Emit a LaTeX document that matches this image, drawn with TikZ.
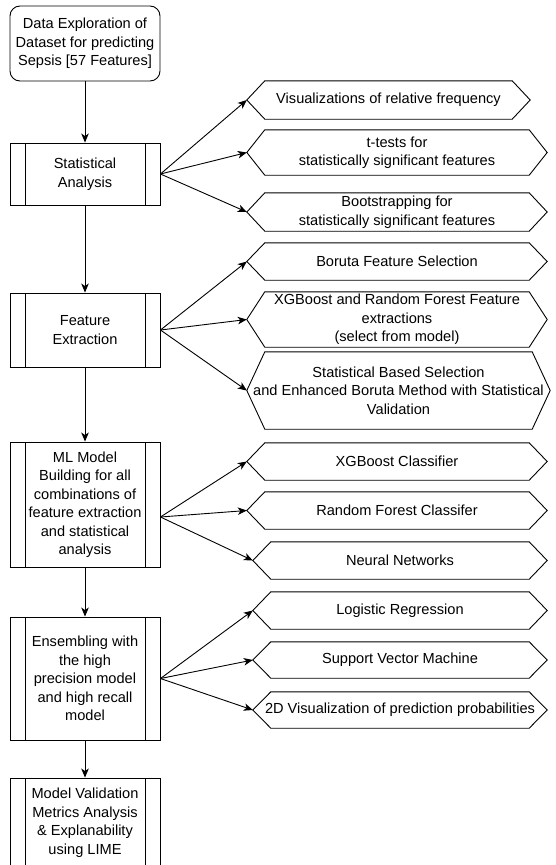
\documentclass[tikz,border=0pt]{standalone}
\usepackage{fontspec}
\setmainfont{Liberation Sans}
\usetikzlibrary{arrows.meta}
\begin{document}
\begin{tikzpicture}[x=1pt,y=-1pt,
  every node/.style={font=\fontsize{14.6}{18.5}\selectfont, align=center, inner sep=0pt},
  ln/.style={line width=0.9pt, draw=black},
  arr/.style={ln, -{Stealth[length=9pt,width=7.5pt,inset=2.5pt]}},
  proc/.style={ln, minimum width=150pt,
    path picture={\draw[line width=0.9pt]
      ([xshift=15pt]path picture bounding box.north west) -- ([xshift=15pt]path picture bounding box.south west)
      ([xshift=-15pt]path picture bounding box.north east) -- ([xshift=-15pt]path picture bounding box.south east);}},
  hexbox/.style={minimum height=#1}
]
\useasboundingbox (0,0) rectangle (555,865);

% left column
\node[ln, rounded corners=10pt, minimum width=150pt, minimum height=75pt] (top) at (85,43.5)
  {Data Exploration of\\Dataset for predicting\\Sepsis [57 Features]};
\node[proc, minimum height=62pt] (stat) at (85,174) {Statistical\\Analysis};
\node[proc, minimum height=74pt] (fe) at (85,330) {Feature\\Extraction};
\node[proc, minimum height=125pt] (ml) at (85,504.5)
  {ML Model\\Building for all\\combinations of\\feature extraction\\and statistical\\analysis};
\node[proc, minimum height=123pt] (ens) at (85,678.5)
  {Ensembling with\\the high\\precision model\\and high recall\\model};
\node[proc, minimum height=89pt] (mv) at (85,822.5)
  {Model Validation\\Metrics Analysis\\\& Explanability\\using LIME};

\draw[arr] (top) -- (stat);
\draw[arr] (stat) -- (fe);
\draw[arr] (fe) -- (ml);
\draw[arr] (ml) -- (ens);
\draw[arr] (ens) -- (mv);

% right column
\node[minimum width=283pt, hexbox=38pt] (vis) at (388.5,100) {Visualizations of relative frequency};
\node[minimum width=300pt, hexbox=45pt] (tt) at (397,152.5) {t-tests for\\statistically significant features};
\node[minimum width=300pt, hexbox=38pt] (boot) at (397,212) {Bootstrapping for\\statistically significant features};
\node[minimum width=300pt, hexbox=37pt] (bor) at (397,261.5) {Boruta Feature Selection};
\node[minimum width=300pt, hexbox=55pt] (xfe) at (397,319.5) {XGBoost and Random Forest Feature\\extractions\\(select from model)};
\node[minimum width=303pt, hexbox=77pt] (sbs) at (398.5,390.5) {Statistical Based Selection\\and Enhanced Boruta Method with Statistical\\Validation};
\node[minimum width=300pt, hexbox=37pt] (xgc) at (397,461.5) {XGBoost Classifier};
\node[minimum width=300pt, hexbox=37pt] (rfc) at (397,510.5) {Random Forest Classifer};
\node[minimum width=294pt, hexbox=37pt] (nn) at (400,560.5) {Neural Networks};
\node[minimum width=294pt, hexbox=37pt] (lr) at (400,610.5) {Logistic Regression};
\node[minimum width=294pt, hexbox=36pt] (svm) at (400,660) {Support Vector Machine};
\node[minimum width=294pt, hexbox=36pt] (v2d) at (400,710) {2D Visualization of prediction probabilities};

\foreach \n in {vis,tt,boot,bor,xfe,sbs,xgc,rfc,nn,lr,svm,v2d}{
  \draw[ln, line join=miter] (\n.west) -- ([xshift=18pt]\n.north west) -- ([xshift=-18pt]\n.north east)
    -- (\n.east) -- ([xshift=-18pt]\n.south east) -- ([xshift=18pt]\n.south west) -- cycle;
}

\draw[arr] (stat.east) -- (vis.west);
\draw[arr] (stat.east) -- (tt.west);
\draw[arr] (stat.east) -- (boot.west);
\draw[arr] (fe.east) -- (bor.west);
\draw[arr] (fe.east) -- (xfe.west);
\draw[arr] (fe.east) -- (sbs.west);
\coordinate (mlo) at ([yshift=-12.5pt]ml.east);
\draw[arr] (mlo) -- (xgc.west);
\draw[arr] (mlo) -- (rfc.west);
\draw[arr] (mlo) -- (nn.west);
\draw[arr] (ens.east) -- (lr.west);
\draw[arr] (ens.east) -- (svm.west);
\draw[arr] (ens.east) -- (v2d.west);
\end{tikzpicture}
\end{document}
